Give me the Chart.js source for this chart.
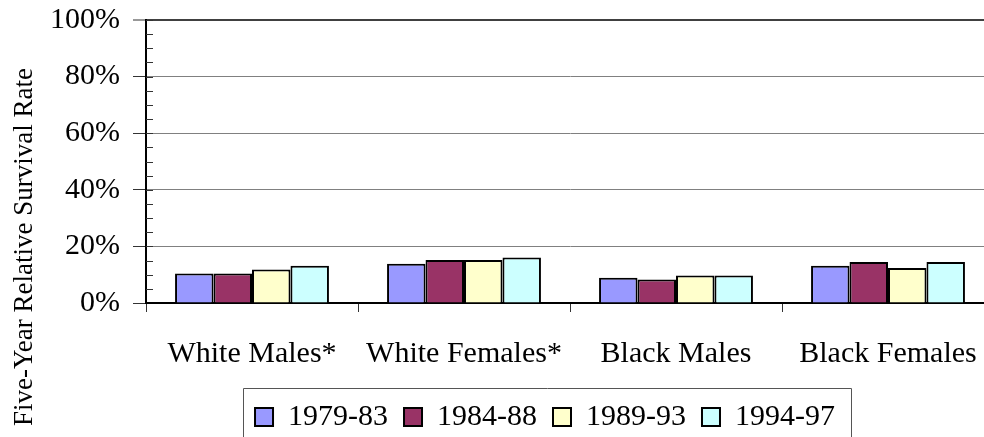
<!DOCTYPE html>
<html>
<head>
<meta charset="utf-8">
<script src="https://cdn.jsdelivr.net/npm/chart.js@4.4.1/dist/chart.umd.min.js"></script>
<style>
  html, body { margin: 0; padding: 0; background: #fff; overflow: hidden; }
  #wrap { width: 984px; height: 437px; overflow: hidden; position: relative; }
  canvas { display: block; }
</style>
</head>
<body>
<div id="wrap"><canvas id="c" width="1090" height="437"></canvas></div>
<script>
// ---- data ----
const categories = ['White Males*', 'White Females*', 'Black Males', 'Black Females'];
const seriesLabels = ['1979-83', '1984-88', '1989-93', '1994-97'];
const s1979_83 = [10.4, 13.9, 8.9, 13.2];
const s1984_88 = [10.4, 15.2, 8.3, 14.5];
const s1989_93 = [11.8, 15.2, 9.7, 12.4];
const s1994_97 = [13.2, 16.1, 9.7, 14.5];
const seriesColors = ['#9999FF', '#993366', '#FFFFCC', '#CCFFFF'];
const yTitle = 'Five-Year Relative Survival Rate';
const yMin = 0, yMax = 100, yMinorStep = 5, yMajorStep = 20;

const FONT = "'Liberation Serif', 'Times New Roman', Times, serif";
Chart.defaults.color = '#000';
Chart.defaults.font.family = FONT;

const seriesValues = [s1979_83, s1984_88, s1989_93, s1994_97];

// legend frame
const legendFrame = {
  id: 'legendFrame',
  afterDraw(chart) {
    const lg = chart.legend;
    if (!lg || !lg.legendHitBoxes || !lg.legendHitBoxes.length) return;
    const hb = lg.legendHitBoxes;
    const first = hb[0], last = hb[hb.length - 1];
    const ctx = chart.ctx;
    ctx.save();
    ctx.strokeStyle = '#555';
    ctx.lineWidth = 1;
    const x0 = Math.round(first.left - 12) + 0.5;
    const x1 = Math.round(last.left + last.width + 16) + 0.5;
    const y0 = Math.round(lg.top + 2) + 0.5;
    ctx.beginPath();
    ctx.moveTo(x0, chart.height + 5);
    ctx.lineTo(x0, y0);
    ctx.lineTo(x1, y0);
    ctx.lineTo(x1, chart.height + 5);
    ctx.stroke();
    ctx.restore();
  }
};

// inner minor tick marks + axis title
const axisExtras = {
  id: 'axisExtras',
  afterDraw(chart) {
    const ctx = chart.ctx;
    const y = chart.scales.y;
    const left = chart.chartArea.left;
    ctx.save();
    ctx.strokeStyle = '#333';
    ctx.lineWidth = 1;
    y.ticks.forEach(t => {
      if (t.value === yMin) return;
      const py = Math.round(y.getPixelForValue(t.value)) + 0.5;
      ctx.beginPath();
      ctx.moveTo(left, py);
      ctx.lineTo(left + 7, py);
      ctx.stroke();
    });
    // y-axis title
    ctx.fillStyle = '#000';
    ctx.font = "27px " + FONT;
    ctx.textAlign = 'center';
    ctx.textBaseline = 'alphabetic';
    ctx.translate(32, 247);
    ctx.rotate(-Math.PI / 2);
    ctx.fillText(yTitle, 0, 0);
    ctx.restore();
  }
};

new Chart(document.getElementById('c'), {
  type: 'bar',
  data: {
    labels: categories,
    datasets: seriesLabels.map((lab, i) => ({
      label: lab,
      data: seriesValues[i],
      backgroundColor: seriesColors[i],
      borderColor: '#000',
      borderWidth: 2,
      categoryPercentage: 0.726,
      barPercentage: 1.0
    }))
  },
  options: {
    responsive: false,
    animation: false,
    devicePixelRatio: 1,
    layout: { padding: { top: 20, bottom: -5, left: 0, right: 0 } },
    plugins: {
      tooltip: { enabled: false },
      title: { display: false },
      legend: {
        display: true,
        position: 'bottom',
        align: 'center',
        labels: {
          font: { size: 30, family: FONT },
          color: '#000',
          boxWidth: 18,
          boxHeight: 18,
          padding: 16,
          useBorderRadius: false
        },
        onClick: null
      }
    },
    scales: {
      x: {
        type: 'category',
        offset: true,
        grid: {
          display: true,
          offset: true,
          drawOnChartArea: false,
          drawTicks: true,
          tickLength: 9,
          tickColor: '#333',
          tickWidth: 1
        },
        border: { display: true, color: '#000', width: 2 },
        ticks: {
          font: { size: 30, family: FONT },
          color: '#000',
          padding: 24,
          maxRotation: 0,
          autoSkip: false
        },
        afterFit(s) { s.height = 83; }
      },
      y: {
        type: 'linear',
        position: 'left',
        min: yMin,
        max: yMax,
        grid: {
          display: true,
          drawOnChartArea: true,
          drawTicks: true,
          tickLength: 13,
          color: c => {
            const v = c.tick ? c.tick.value : null;
            if (v === yMin) return 'rgba(0,0,0,0)';
            if (v === yMax) return '#404040';
            return (v % yMajorStep === 0) ? '#808080' : 'rgba(0,0,0,0)';
          },
          lineWidth: c => (c.tick && c.tick.value === yMax) ? 2 : 1,
          tickColor: c => (c.tick && c.tick.value % yMajorStep === 0) ? '#333' : 'rgba(0,0,0,0)',
          tickWidth: 1
        },
        border: { display: true, color: '#000', width: 2 },
        ticks: {
          stepSize: yMinorStep,
          autoSkip: false,
          font: { size: 30, family: FONT, lineHeight: 0.4 },
          color: '#000',
          padding: 13,
          callback: v => (v % yMajorStep === 0) ? v + '%' : ''
        },
        afterFit(s) { s.width = 146; }
      },
      yR: {
        type: 'linear',
        position: 'right',
        display: true,
        grid: { display: false, drawTicks: false },
        border: { display: false },
        ticks: { display: false },
        afterFit(s) { s.width = 96; }
      }
    }
  },
  plugins: [legendFrame, axisExtras]
});
</script>
</body>
</html>
